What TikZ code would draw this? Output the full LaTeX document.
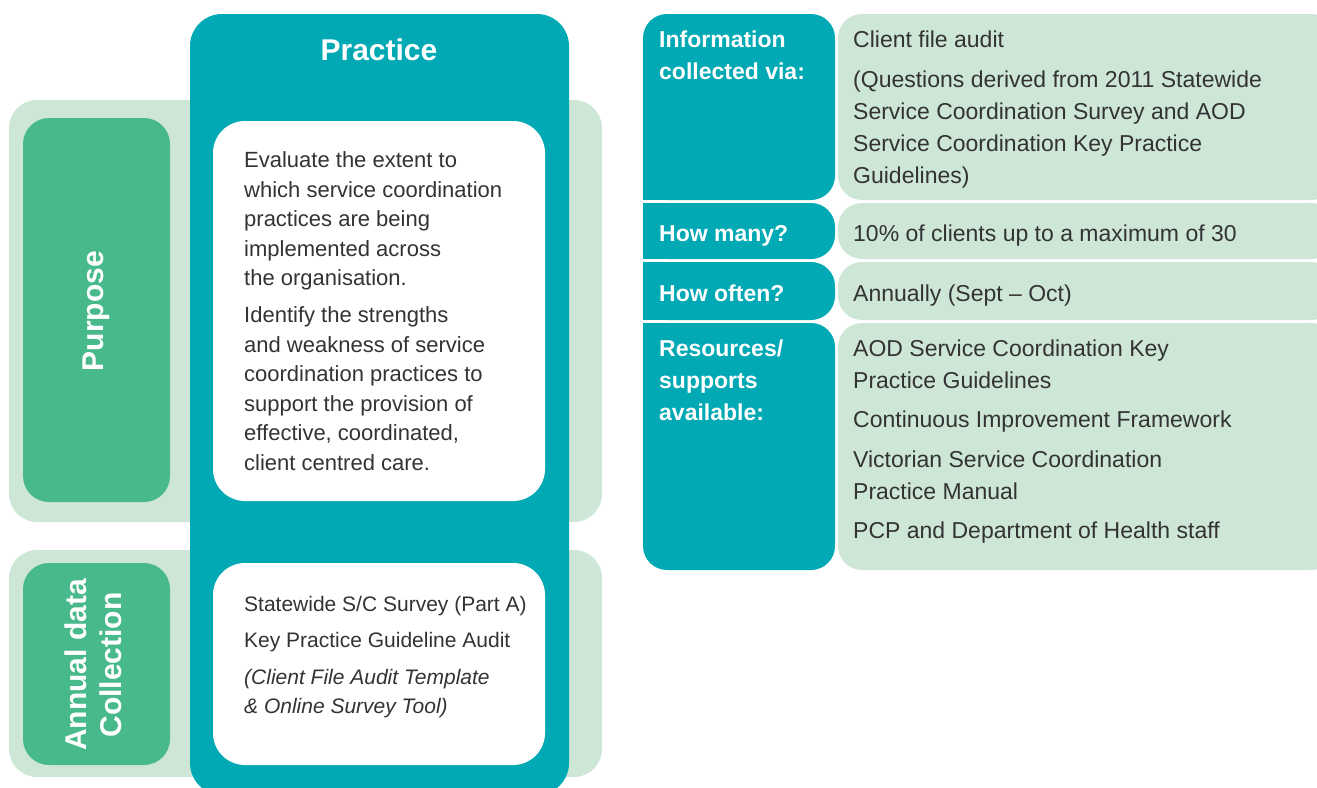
\documentclass[tikz,border=0pt]{standalone}
\usepackage{fontspec}
\setmainfont{Liberation Sans}
\usetikzlibrary{positioning}

\definecolor{pteal}{RGB}{0,169,180}
\definecolor{pgreen}{RGB}{72,185,139}
\definecolor{pmint}{RGB}{205,230,214}
\definecolor{ptext}{RGB}{51,51,51}

\begin{document}
\begin{tikzpicture}[x=1pt,y=-1pt,
  bodytext/.style={anchor=base west,align=left,text=ptext,inner sep=0pt,font=\fontsize{23}{32}\selectfont},
  headtext/.style={anchor=base west,align=left,text=white,inner sep=0pt,font=\bfseries\fontsize{23}{32}\selectfont},
  sidetext/.style={rotate=90,align=center,text=white,inner sep=0pt,font=\bfseries\fontsize{30}{35}\selectfont}]
 \useasboundingbox (0,0) rectangle (1317,787);
 \clip (0,0) rectangle (1317,787);

 % left half: two bands crossed by the practice column
 \fill[pmint,rounded corners=28] (9,100) rectangle (602,522);
 \fill[pmint,rounded corners=28] (9,550) rectangle (602,777);
 \fill[pgreen,rounded corners=26] (23,118) rectangle (170,502);
 \fill[pgreen,rounded corners=26] (23,563) rectangle (170,765);
 \fill[pteal,rounded corners=32] (190,14) rectangle (569,795);
 \fill[white,rounded corners=32] (213,121) rectangle (545,501);
 \fill[white,rounded corners=32] (213,563) rectangle (545,765);

 \node[font=\bfseries\fontsize{30}{36}\selectfont,text=white] (practice) at (379,50) {Practice};
 \node[sidetext] (purpose) at (96,311) {Purpose};
 \node[sidetext] (annual) at (93,665) {Annual data\\Collection};

 % multi-line nodes sit on the baseline of their last line
 \node[bodytext,font=\fontsize{22}{29.5}\selectfont] (aim) at (244,470) {Evaluate the extent to\\which service coordination\\practices are being\\implemented across\\the organisation.\\[7.5pt]Identify the strengths\\and weakness of service\\coordination practices to\\support the provision of\\effective, coordinated,\\client centred care.};
 \node[bodytext,font=\fontsize{21}{29}\selectfont] (tools) at (244,713) {Statewide S/C Survey (Part A)\\[7pt]Key Practice Guideline Audit\\[8pt]{\itshape (Client File Audit Template}\\{\itshape \& Online Survey Tool)}};

 % right half: question rows
 \foreach \t/\b in {14/200,203/259,262/320,323/570}{
  \fill[pteal,rounded corners=24] (643,\t) rectangle (835,\b);
  \fill[pmint,rounded corners=24] (838,\t) rectangle (1335,\b);
 }
 % square off the inner left corners
 \fill[pteal] (643,50) rectangle (700,200);
 \fill[pteal] (643,203) rectangle (700,259);
 \fill[pteal] (643,262) rectangle (700,320);
 \fill[pteal] (643,323) rectangle (700,540);

 \node[headtext] (via) at (659,79) {Information\\collected via:};
 \node[bodytext] (audit) at (853,183) {Client file audit\\[8pt](Questions derived from 2011 Statewide\\Service Coordination Survey and AOD\\Service Coordination Key Practice\\Guidelines)};
 \node[headtext] (many) at (659,241) {How many?};
 \node[bodytext] (clients) at (853,241) {10\% of clients up to a maximum of 30};
 \node[headtext] (often) at (659,301) {How often?};
 \node[bodytext] (annually) at (853,301) {Annually (Sept – Oct)};
 \node[headtext] (res) at (659,420) {Resources/\\supports\\available:};
 \node[bodytext] (guides) at (853,538) {AOD Service Coordination Key\\Practice Guidelines\\[7pt]Continuous Improvement Framework\\[8pt]Victorian Service Coordination\\Practice Manual\\[7pt]PCP and Department of Health staff};
\end{tikzpicture}
\end{document}
